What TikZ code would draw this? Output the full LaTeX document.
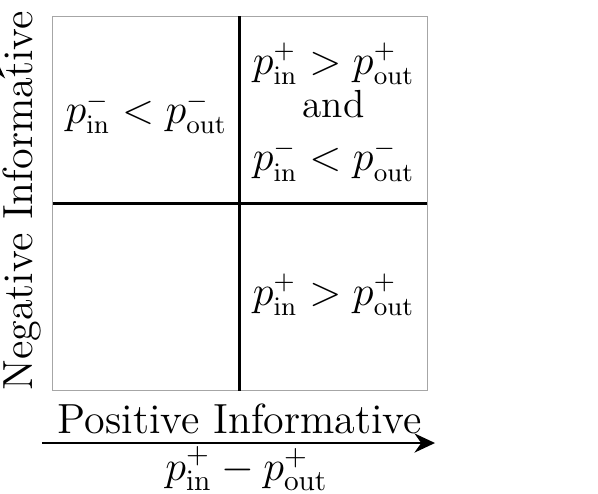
\documentclass[tikz,border=0pt]{standalone}
\usetikzlibrary{arrows.meta, positioning, calc}

\begin{document}
\begin{tikzpicture}[
		every node/.style={font=\Large, inner sep=0pt},
		cell/.style={align=center, font=\fontsize{13.4pt}{18pt}\selectfont},
		frame/.style={draw=black!35, line width=0.4pt},
		divider/.style={line width=1pt},
		axis/.style={line width=1pt, -{Stealth[length=7pt,width=6.5pt]}},
	]
	\useasboundingbox (-0.633,-1.229) rectangle (6.552,4.695);

	% -- quadrant box --
	\coordinate (ll) at (0,0);
	\coordinate (ur) at (4.5,4.5);
	\draw[frame] (ll) rectangle (ur);

	\coordinate (midtop) at (2.25,4.5);
	\coordinate (midbot) at (2.25,0);
	\coordinate (midleft) at (0,2.25);
	\coordinate (midright) at (4.5,2.25);
	\draw[divider] (midtop) -- (midbot);
	\draw[divider] (midleft) -- (midright);

	% -- cell texts --
	\node [cell] (negonly) at (1.125,3.333) {$p^-_{\mathrm{in}} < p^-_{\mathrm{out}}$};
	\node [cell] (both) at (3.375,3.348) {
		$p^+_{\mathrm{in}} > p^+_{\mathrm{out}}$ \\[-3pt]
		and \\
		$p^-_{\mathrm{in}} < p^-_{\mathrm{out}}$
	};
	\node [cell] (posonly) at (3.375,1.153) {$p^+_{\mathrm{in}} > p^+_{\mathrm{out}}$};

	% -- axes --
	\coordinate (hstart) at (-0.129,-0.628);
	\coordinate (hend) at (4.594,-0.628);
	\draw[axis] (hstart) -- (hend);
	\node [anchor=base] (poslabel) at (2.25,-0.508) {Positive Informative};
	\node [anchor=base] (posdiff) at (2.33,-1.079)
	{$p^+_{\mathrm{in}} - p^+_{\mathrm{out}}$};

	% y axis runs just off the left edge
	\coordinate (vstart) at (-0.687,-0.129);
	\coordinate (vend) at (-0.687,4.0);
	\draw[axis] (vstart) -- (vend);
	\node [anchor=base, rotate=90] (neglabel) at (-0.237,2.28) {Negative Informative};
\end{tikzpicture}
\end{document}
